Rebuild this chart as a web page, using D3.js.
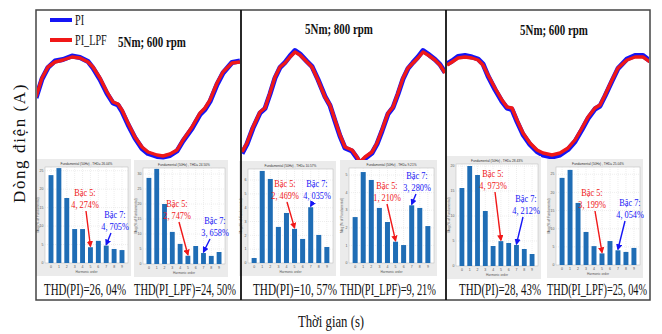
<!DOCTYPE html>
<html><head><meta charset="utf-8">
<script src="https://cdn.jsdelivr.net/npm/d3@7"></script>
<style>body{margin:0;background:#fff}svg{display:block}</style>
</head><body><svg id="c" width="662" height="334"></svg>
<script>
// ---------------- DATA ----------------
const panelTitles = ["5Nm; 600 rpm", "5Nm; 800 rpm", "5Nm; 600 rpm"];
const seriesNames = ["PI", "PI_LPF"];
const thdPI  = ["26, 04%", "10, 57%", "28, 43%"];
const thdLPF = ["24, 50%", "9, 21%", "25, 04%"];

// waveform samples (time index within each window, current in A)
const t1   = [0,6,12,19,27,36,44,52,57,64,71,77,82,86,92,99,106,112,121,127,134,141,147,156,164,169,174,181,187,196,204];
const lpf1 = [2.0,5.8,8.0,9.0,9.4,10.0,9.8,9.0,8.0,5.8,3.0,1.0,0.6,-0.6,-3.2,-6.0,-8.0,-9.0,-9.6,-9.8,-9.4,-8.6,-6.6,-4.0,-1.2,-0.2,1.4,4.8,7.0,8.8,9.0];
const pi1  = [1.8,5.6,7.9,9.2,9.5,10.2,9.9,9.1,7.8,5.5,2.7,0.8,0.4,-0.9,-3.5,-6.2,-8.3,-9.3,-9.9,-10.0,-9.7,-8.8,-6.8,-4.3,-1.5,-0.5,1.1,4.5,6.8,8.9,9.2];

const t2   = [1,6,12,19,24,29,34,39,44,49,54,59,66,71,77,84,89,94,99,104,111,116,119,124,131,136,141,147,152,157,162,167,172,177,182,187,194,199,204];
const lpf2 = [-9.0,-7.2,-4.0,-1.0,-0.2,2.8,6.0,8.0,8.8,10.0,11.0,10.4,9.0,8.0,5.4,2.0,0.4,-2.6,-5.6,-8.0,-8.6,-10.0,-11.0,-10.0,-9.0,-7.2,-4.6,-1.2,0.0,2.8,5.8,7.8,8.8,9.8,11.0,10.4,9.4,8.4,6.8];
const pi2  = [-9.3,-7.4,-4.2,-1.2,-0.3,2.6,5.8,7.9,8.9,10.2,11.3,10.6,9.1,8.1,5.5,2.1,0.3,-2.8,-5.8,-8.2,-8.8,-10.2,-11.3,-10.3,-9.2,-7.4,-4.8,-1.4,-0.1,2.6,5.6,7.7,8.9,10.0,11.3,10.6,9.5,8.5,6.9];

const t3   = [1,6,12,19,26,32,37,42,49,56,61,66,71,77,84,91,97,106,114,122,129,136,142,149,154,159,166,172,181,189,197,204];
const lpf3 = [8.4,9.0,9.8,10.0,9.8,9.4,8.4,6.4,3.8,1.4,0.0,-0.2,-2.6,-5.2,-7.2,-8.6,-9.2,-9.6,-9.2,-8.2,-6.6,-4.2,-2.0,-0.2,0.4,2.4,5.4,7.8,9.4,10.0,10.0,9.0];
const pi3  = [8.6,9.2,10.1,10.3,10.0,9.6,8.6,6.2,3.5,1.1,-0.2,-0.5,-2.9,-5.5,-7.5,-8.9,-9.6,-10.0,-9.6,-8.5,-6.9,-4.5,-2.3,-0.4,0.2,2.2,5.2,7.7,9.6,10.3,10.3,9.2];

// harmonic spectra (% of fundamental) for orders 0..9
const harmonicOrders = [0,1,2,3,4,5,6,7,8,9];
const spec600PI   = [23.8,25.7,17.6,9.2,9.2,4.274,6.0,4.705,3.8,3.5];
const spec600LPF  = [28.7,31.7,20.0,10.7,6.7,2.747,6.0,3.658,2.7,4.0];
const spec800PI   = [0.36,6.66,6.08,2.61,3.62,2.469,1.74,4.035,2.03,1.16];
const spec800LPF  = [2.61,5.17,4.72,3.13,2.33,1.210,1.02,3.280,3.13,2.10];
const spec600bPI  = [15.6,20.0,18.2,11.0,4.0,4.973,4.6,4.212,3.4,2.4];
const spec600bLPF = [24.0,26.2,17.1,9.1,5.2,3.199,6.6,4.054,3.6,4.7];
const specMax     = [26, 32, 6.8, 5.4, 20.4, 27];
const insetTHD    = ["26.04%", "24.50%", "10.57%", "9.21%", "28.43%", "25.04%"];
const bac5Labels  = ["4, 274%", "2, 747%", "2, 469%", "1, 210%", "4, 973%", "3, 199%"];
const bac7Labels  = ["4, 705%", "3, 658%", "4, 035%", "3, 280%", "4, 212%", "4, 054%"];

// ---------------- DRAW ----------------
const svg = d3.select("#c");
const serif = "'Liberation Serif','Times New Roman',serif";
const BLUE = "#1515f5", RED = "#f01818", BAR = "#1f6db5";

// horizontally compressed text (the source figure is squeezed sideways)
function ctext(parent, s, x, y, opt){
  const lines = Array.isArray(s) ? s : [s];
  const t = parent.append("text").attr("x",0).attr("y",0).attr("text-anchor",opt.anchor||"middle")
    .attr("font-size",opt.size).attr("font-family",opt.family||serif).attr("fill",opt.fill||"#111")
    .attr("font-weight",opt.weight||"normal");
  lines.forEach((l,k)=>t.append("tspan").attr("x",0).attr("dy",k===0?0:(opt.lh||opt.size)).text(l));
  const sx = opt.width ? opt.width/t.node().getComputedTextLength() : (opt.sx||1);
  const sy = opt.sy || 1;
  t.attr("transform",`translate(${x},${y}) scale(${sx.toFixed(3)},${sy})`);
  return t;
}

const defs = svg.append("defs");
[["arR",RED],["arB",BLUE]].forEach(([id,c])=>{
  defs.append("marker").attr("id",id).attr("viewBox","0 0 10 10").attr("refX",8).attr("refY",5)
    .attr("markerWidth",4.5).attr("markerHeight",4.5).attr("orient","auto")
    .append("path").attr("d","M0,0L10,5L0,10z").attr("fill",c);
});

const panels = [
  {x0:36, x1:241, t:t1, pi:pi1, lpf:lpf1},
  {x0:241, x1:446, t:t2, pi:pi2, lpf:lpf2},
  {x0:446, x1:650, t:t3, pi:pi3, lpf:lpf3}
];
const yW = d3.scaleLinear().domain([-12,12]).range([167,47]);

panels.forEach((p,i)=>{
  const x = d3.scaleLinear().domain([0,204]).range([p.x0, p.x0+204]);
  defs.append("clipPath").attr("id","cp"+i).append("rect").attr("x",p.x0+1).attr("y",10).attr("width",p.x1-p.x0-2).attr("height",290);
  const g = svg.append("g").attr("clip-path","url(#cp"+i+")");
  const lineB = d3.line().x((d,k)=>x(p.t[k])).y(d=>yW(d)).curve(d3.curveLinear);
  g.append("path").attr("d",lineB(p.pi)).attr("fill","none").attr("stroke",BLUE).attr("stroke-width",5).attr("stroke-linejoin","round");
  g.append("path").attr("d",lineB(p.lpf)).attr("fill","none").attr("stroke",RED).attr("stroke-width",3.4).attr("stroke-linejoin","round");
});

// insets
const specs = [spec600PI, spec600LPF, spec800PI, spec800LPF, spec600bPI, spec600bLPF];
const insets = [
  {x0:45,x1:128,y0:167,y1:263, b5:[85,86], b7:[115,111]},
  {x0:143,x1:225,y0:168,y1:264, b5:[177,179], b7:[215,210]},
  {x0:248,x1:333,y0:169,y1:263, b5:[285,287], b7:[317,313]},
  {x0:349,x1:434,y0:168,y1:263, b5:[387,387], b7:[417,416]},
  {x0:456,x1:538,y0:164,y1:266, b5:[493,495], b7:[526,523]},
  {x0:556,x1:640,y0:167,y1:265, b5:[592,595], b7:[630,625]}
];
const b5y = [192,203,183,185,173,192], b7y = [214,220,183,175,198,202];

insets.forEach((r,i)=>{
  const g = svg.append("g");
  g.append("rect").attr("x",r.x0-9).attr("y",r.y0-8).attr("width",r.x1-r.x0+12).attr("height",r.y1-r.y0+21).attr("fill","#ebebeb");
  g.append("rect").attr("x",r.x0).attr("y",r.y0).attr("width",r.x1-r.x0).attr("height",r.y1-r.y0).attr("fill","#fff").attr("stroke","#b8b8b8").attr("stroke-width",0.5);
  const xb = d3.scaleBand().domain(harmonicOrders).range([r.x0,r.x1]).paddingInner(0.38).paddingOuter(0.45);
  const yb = d3.scaleLinear().domain([0,specMax[i]]).range([r.y1,r.y0]);
  yb.ticks(5).forEach(tk=>{
    g.append("line").attr("x1",r.x0).attr("x2",r.x1).attr("y1",yb(tk)).attr("y2",yb(tk)).attr("stroke","#ddd").attr("stroke-width",0.5).attr("stroke-dasharray","1,1");
    g.append("text").attr("x",r.x0-1.5).attr("y",yb(tk)+1.2).attr("text-anchor","end").attr("font-size",3.5).attr("fill","#555").attr("font-family","Arial,sans-serif").text(tk);
  });
  harmonicOrders.forEach(h=>{
    g.append("line").attr("x1",xb(h)+xb.bandwidth()/2).attr("x2",xb(h)+xb.bandwidth()/2).attr("y1",r.y0).attr("y2",r.y1).attr("stroke","#ddd").attr("stroke-width",0.5).attr("stroke-dasharray","1,1");
    g.append("text").attr("x",xb(h)+xb.bandwidth()/2).attr("y",r.y1+5).attr("text-anchor","middle").attr("font-size",3.5).attr("fill","#555").attr("font-family","Arial,sans-serif").text(h);
  });
  g.selectAll(".bar").data(specs[i]).enter().append("rect")
    .attr("x",(d,k)=>xb(harmonicOrders[k])).attr("width",xb.bandwidth())
    .attr("y",d=>yb(d)).attr("height",d=>r.y1-yb(d)).attr("fill",BAR);
  g.append("text").attr("x",(r.x0+r.x1)/2).attr("y",r.y0-2.5).attr("text-anchor","middle").attr("font-size",3.2).attr("fill","#333").attr("font-family","Arial,sans-serif")
    .text("Fundamental (50Hz) , THD= "+insetTHD[i]);
  g.append("text").attr("x",(r.x0+r.x1)/2).attr("y",r.y1+10).attr("text-anchor","middle").attr("font-size",3.2).attr("fill","#555").attr("font-family","Arial,sans-serif").text("Harmonic order");
  g.append("text").attr("transform",`translate(${r.x0-6},${(r.y0+r.y1)/2}) rotate(-90)`).attr("text-anchor","middle").attr("font-size",3.2).attr("fill","#555").attr("font-family","Arial,sans-serif").text("Mag (% of Fundamental)");

  // annotations (two-line labels with arrows to the harmonic bars)
  const ann = (cx, y, lines, col, ax, ex, ey, mk)=>{
    ctext(g, lines, cx, y+4, {size:9.5, lh:10.6, fill:col, sx:0.87, sy:1.1});
    g.append("line").attr("x1",ax).attr("y1",y+19).attr("x2",ex).attr("y2",ey).attr("stroke",col).attr("stroke-width",1.4).attr("marker-end","url(#"+mk+")");
  };
  const e5x = xb(5)+xb.bandwidth()/2, e5y = yb(specs[i][5])-1;
  const e7x = xb(7)+xb.bandwidth()/2, e7y = yb(specs[i][7])-1;
  ann(r.b5[0], b5y[i], ["Bậc 5:", bac5Labels[i]], RED, r.b5[1], e5x, e5y, "arR");
  ann(r.b7[0], b7y[i], ["Bậc 7:", bac7Labels[i]], BLUE, r.b7[1], e7x, e7y, "arB");
});

// frame
svg.append("rect").attr("x",36).attr("y",10).attr("width",614).attr("height",290).attr("fill","none").attr("stroke","#444").attr("stroke-width",1.5);
[241,446].forEach(x=>svg.append("line").attr("x1",x).attr("x2",x).attr("y1",10).attr("y2",300).attr("stroke","#111").attr("stroke-width",1.8));

// legend
const leg = [[BLUE,20],[RED,40]];
leg.forEach(([c,y],k)=>{
  svg.append("line").attr("x1",50).attr("x2",72).attr("y1",y).attr("y2",y).attr("stroke",c).attr("stroke-width",4);
  ctext(svg, seriesNames[k], 75, y+5, {size:15, anchor:"start", sx:0.68});
});

// panel titles
const titlePos = [[152,47],[339,34],[554,35]];
panelTitles.forEach((s,i)=>{
  ctext(svg, s, titlePos[i][0], titlePos[i][1], {size:14, weight:"bold", sx:0.78});
});

// THD labels: [centerPI, widthPI, centerLPF, widthLPF]
const thdPos = [[85,82,185,102],[295,84,388,96],[500,82,597,100]];
thdPI.forEach((s,i)=>{
  const q = thdPos[i];
  ctext(svg, "THD(PI)="+s, q[0], 295, {size:16, width:q[1]});
  ctext(svg, "THD(PI_LPF)="+thdLPF[i], q[2], 295, {size:16, width:q[3]});
});

// axis titles
svg.append("text").attr("transform","translate(25,143) rotate(-90)").attr("text-anchor","middle").attr("font-size",17).attr("font-family",serif).attr("fill","#111")
  .attr("letter-spacing",1.6).text("Dòng điện (A)");
ctext(svg, "Thời gian (s)", 331, 327, {size:17, sx:0.75});
</script></body></html>
